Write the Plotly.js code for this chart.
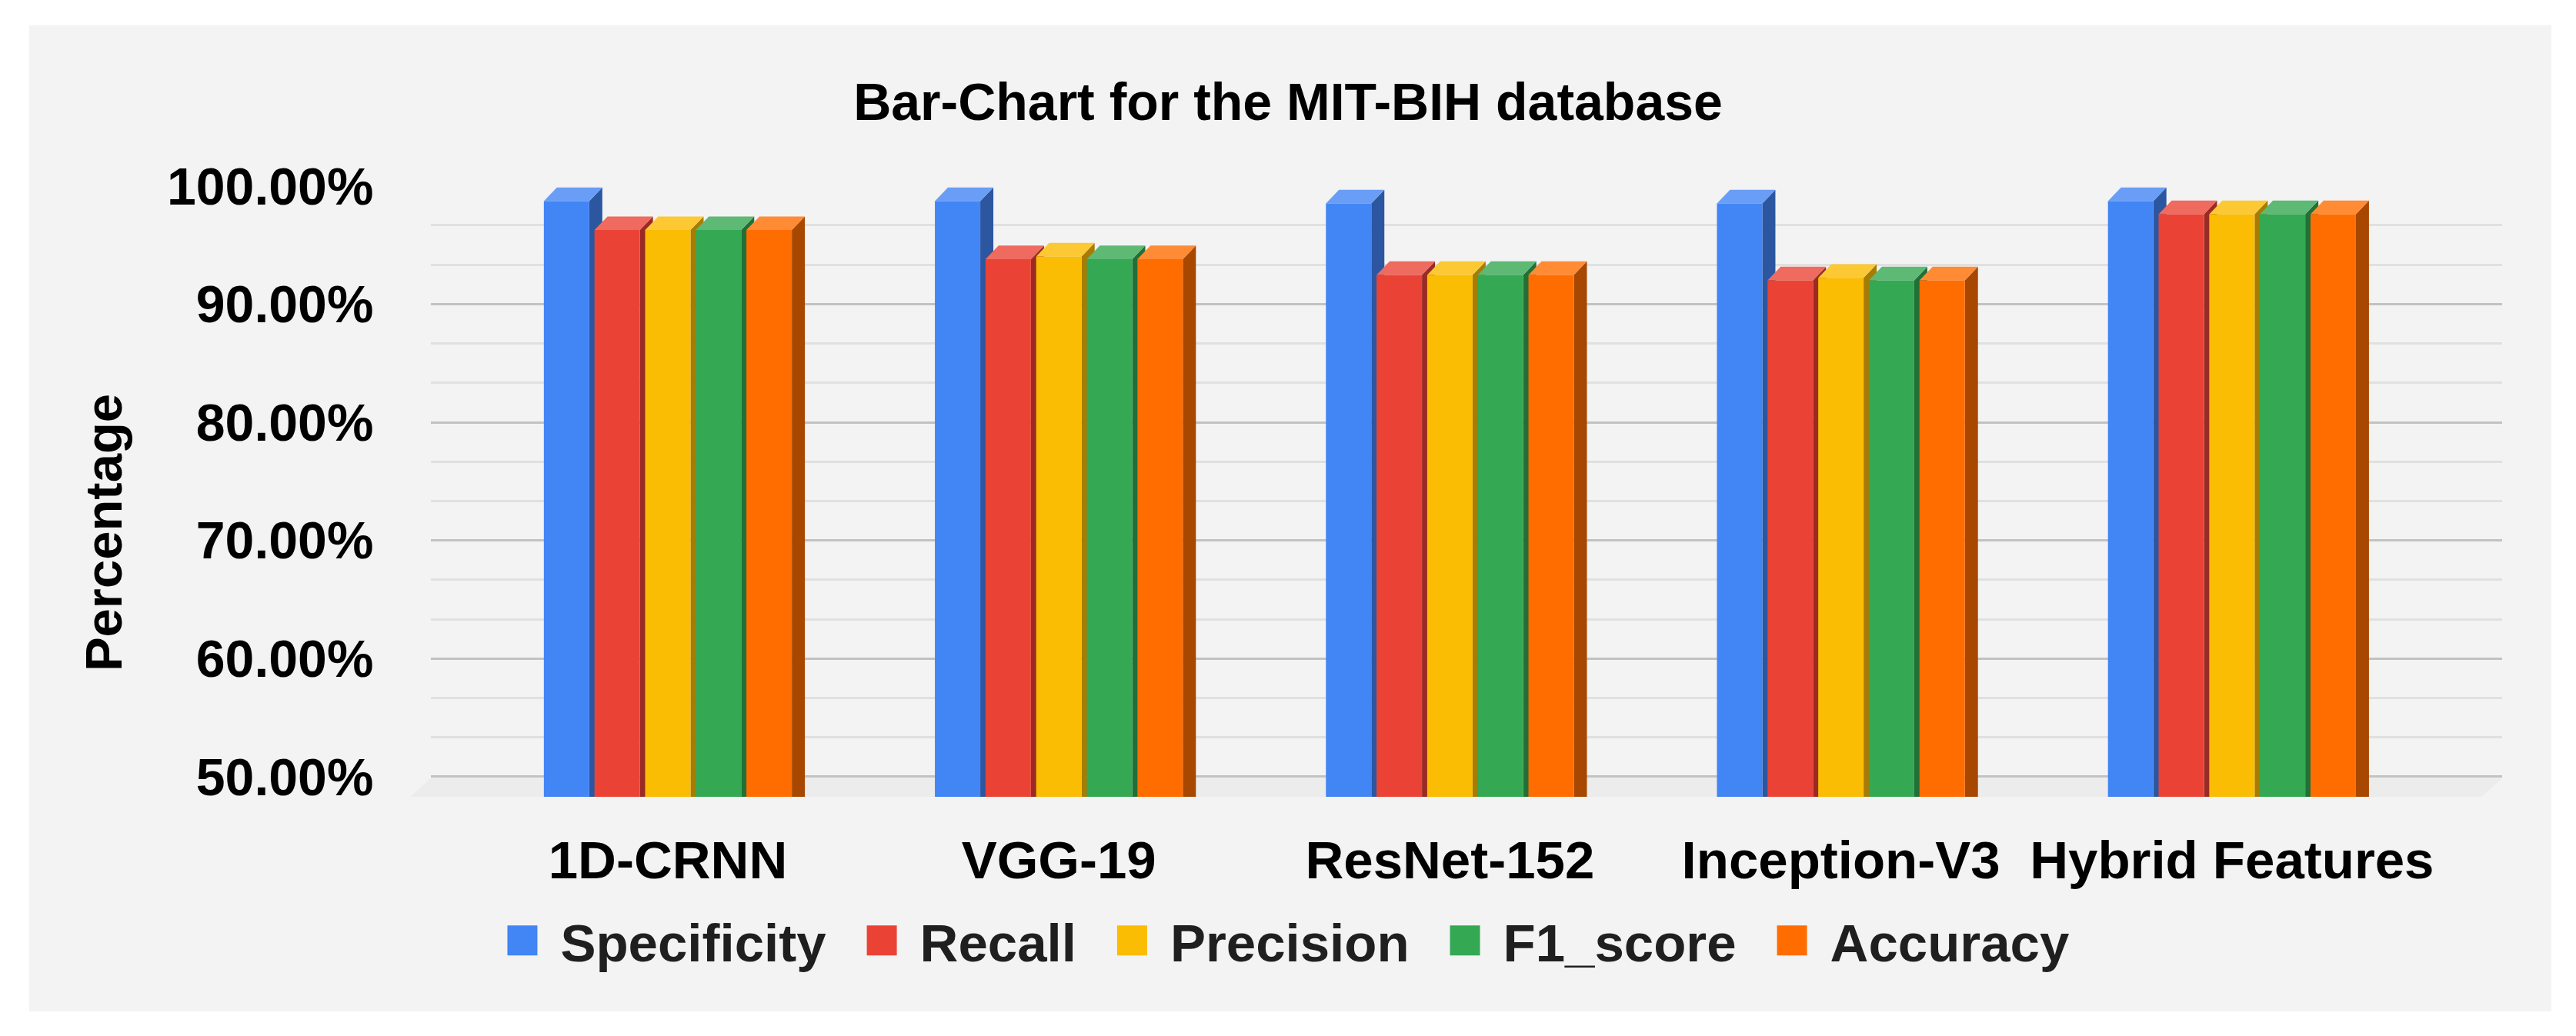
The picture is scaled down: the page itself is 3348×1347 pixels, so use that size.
<!DOCTYPE html>
<html>
<head>
<meta charset="utf-8">
<script src="https://cdn.plot.ly/plotly-3.0.1.min.js"></script>
<style>
  html, body { margin: 0; padding: 0; background: #ffffff; }
  #chart { width: 3348px; height: 1347px; }
</style>
</head>
<body>
<div id="chart"></div>
<script>
// ---- data ----
const categories = ['1D-CRNN', 'VGG-19', 'ResNet-152', 'Inception-V3', 'Hybrid Features'];
const seriesNames = ['Specificity', 'Recall', 'Precision', 'F1_score', 'Accuracy'];
const specificity = [98.72, 98.72, 98.52, 98.52, 98.72];
const recall      = [96.27, 93.80, 92.47, 92.01, 97.61];
const precision   = [96.27, 94.03, 92.47, 92.23, 97.61];
const f1Score     = [96.27, 93.80, 92.47, 92.01, 97.61];
const accuracy    = [96.27, 93.80, 92.47, 92.01, 97.61];
const tickValues  = [50, 60, 70, 80, 90, 100];
const tickLabels  = tickValues.map(v => v.toFixed(2) + '%');

// ---- styling ----
const frontColors = ['#4285F4', '#EA4335', '#FBBC04', '#34A853', '#FF6D01'];
const sideColors  = ['#2C57A0', '#9A2B24', '#A67C04', '#226F37', '#A84700'];
const topColors   = ['#6A9EF6', '#EF6A5F', '#FCC934', '#5DB974', '#FF8B35'];
const FONT = 'Liberation Sans, Arial, Helvetica, sans-serif';

const allSeries = [specificity, recall, precision, f1Score, accuracy];
const yMin = 48.3, yMax = 100.05;
const pitch = 0.1295;      // slot width per bar (category units)
const barW = 0.1161;       // front face width
const depthX = 0.0334;     // 3D depth in category units
const depthY = 1.15;       // 3D depth in value units
const legendItemWidth = 107;

const traces = allSeries.map((vals, j) => ({
  type: 'bar',
  name: seriesNames[j],
  x: categories,
  y: vals,
  width: barW,
  offset: (j - 2) * pitch - barW / 2,
  marker: { color: frontColors[j], line: { width: 0 } },
  hoverinfo: 'x+y+name'
}));

// 3D faces computed from the same data through the axes
const shapes = [];
// panel background
shapes.push({ type: 'rect', xref: 'paper', yref: 'paper', x0: -0.1939, x1: 1.0238, y0: -0.3509, y1: 1.2619,
  fillcolor: '#F3F3F3', line: { width: 0 }, layer: 'below' });
// floor
shapes.push({ type: 'path', xref: 'paper', yref: 'paper',
  path: 'M 0,0.0303 L 1,0.0303 L 0.99,0 L -0.01,0 Z',
  fillcolor: '#ECECEC', line: { width: 0 }, layer: 'below' });

categories.forEach((c, i) => {
  allSeries.forEach((vals, j) => {
    const v = vals[i];
    const xl = i + (j - 2) * pitch - barW / 2;
    const xr = xl + barW;
    shapes.push({ type: 'path', xref: 'x', yref: 'y', layer: 'between',
      path: `M ${xr},${yMin} L ${xr},${v} L ${xr + depthX},${v + depthY} L ${xr + depthX},${yMin} Z`,
      fillcolor: sideColors[j], line: { width: 0 } });
    shapes.push({ type: 'path', xref: 'x', yref: 'y', layer: 'between',
      path: `M ${xl},${v} L ${xr},${v} L ${xr + depthX},${v + depthY} L ${xl + depthX},${v + depthY} Z`,
      fillcolor: topColors[j], line: { width: 0 } });
  });
});

const layout = {
  width: 3348,
  height: 1347,
  paper_bgcolor: '#FFFFFF',
  plot_bgcolor: 'rgba(0,0,0,0)',
  margin: { l: 560, r: 96, t: 241, b: 311, pad: 0 },
  barmode: 'overlay',
  font: { family: FONT, color: '#000000' },
  title: {
    text: '<b>Bar-Chart for the MIT-BIH database</b>',
    font: { family: FONT, size: 68, color: '#000000' },
    x: 0.5, xref: 'container', xanchor: 'center',
    y: 0.902, yref: 'container', yanchor: 'middle'
  },
  xaxis: {
    type: 'category',
    range: [-0.606, 4.691],
    showgrid: false, zeroline: false, showline: false,
    ticks: '',
    ticklabelstandoff: 36,
    tickfont: { family: FONT, size: 69, color: '#000000', weight: 'bold' }
  },
  yaxis: {
    range: [yMin, yMax],
    tickmode: 'array',
    tickvals: tickValues,
    ticktext: tickLabels,
    showgrid: true, gridcolor: '#C2C2C2', gridwidth: 3,
    minor: { dtick: 10 / 3, tick0: 50, showgrid: true, gridcolor: '#E0E0E0', gridwidth: 3, ticks: '' },
    zeroline: false, showline: false,
    ticks: 'outside', ticklen: 60, tickcolor: 'rgba(0,0,0,0)',
    tickfont: { family: FONT, size: 68, color: '#000000', weight: 'bold' },
    title: { text: '<b>Percentage</b>', font: { family: FONT, size: 67, color: '#000000' }, standoff: 36 }
  },
  showlegend: true,
  legend: {
    orientation: 'h',
    x: 0.406, xanchor: 'center',
    y: -0.235, yanchor: 'middle',
    bgcolor: 'rgba(0,0,0,0)',
    itemwidth: legendItemWidth,
    font: { family: FONT, size: 69, color: '#1F1F1F', weight: 'bold' },
    traceorder: 'normal'
  },
  shapes: shapes
};

Plotly.newPlot('chart', traces, layout, { displayModeBar: false, staticPlot: true }).then(() => {
  const symbolCenter = (legendItemWidth + 10) / 2 + 9;
  document.querySelectorAll('.legend .legendpoints path').forEach(p => {
    p.setAttribute('transform', `translate(${symbolCenter},0) scale(3.25)`);
  });
  const yt = document.querySelector('.g-ytitle');
  if (yt) yt.setAttribute('transform', 'translate(0,54)');
});
</script>
</body>
</html>
